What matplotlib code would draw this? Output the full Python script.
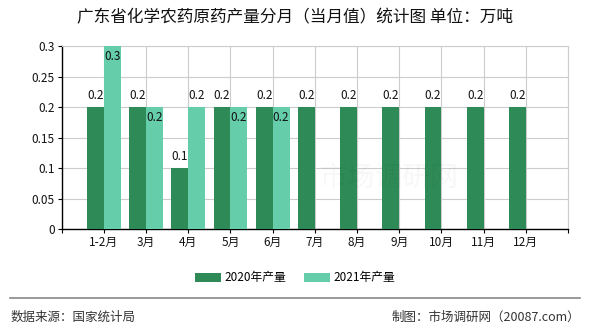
import matplotlib
matplotlib.use("Agg")
import matplotlib.pyplot as plt
import numpy as np

plt.rcParams['font.family'] = ['Noto Sans CJK SC', 'DejaVu Sans']

categories = ["1-2月", "3月", "4月", "5月", "6月", "7月", "8月", "9月", "10月", "11月", "12月"]
prod_2020 = [0.2, 0.2, 0.1, 0.2, 0.2, 0.2, 0.2, 0.2, 0.2, 0.2, 0.2]
prod_2021 = [0.3, 0.2, 0.2, 0.2, 0.2]
label_inside_2021 = [True, True, False, True, True]
yticks = [0, 0.05, 0.1, 0.15, 0.2, 0.25, 0.3]
ytick_labels = ["0", "0.05", "0.1", "0.15", "0.2", "0.25", "0.3"]

c2020 = "#2E8B57"
c2021 = "#66CDAA"

fig = plt.figure(figsize=(5.9, 3.3), dpi=100)
ax = fig.add_axes([0.1046, 0.3052, 0.8581, 0.5554])

x = np.arange(len(categories))
w = 0.4
ax.bar(x[:len(prod_2020)] - w / 2, prod_2020, width=w, color=c2020, zorder=3, label="2020年产量")
x21 = x[:len(prod_2021)]
ax.bar(x21 + w / 2, prod_2021, width=w, color=c2021, zorder=3, label="2021年产量")

for xi, v in zip(x, prod_2020):
    ax.annotate(f"{v:g}", (xi - w / 2, v), xytext=(0, 4), textcoords="offset points",
                ha="center", va="bottom", fontsize=8.5, color="#111", zorder=5)
for xi, v, inside in zip(x21, prod_2021, label_inside_2021):
    if inside:
        ax.annotate(f"{v:g}", (xi + w / 2, v), xytext=(0, -3), textcoords="offset points",
                    ha="center", va="top", fontsize=8.5, color="#111", zorder=5)
    else:
        ax.annotate(f"{v:g}", (xi + w / 2, v), xytext=(0, 4), textcoords="offset points",
                    ha="center", va="bottom", fontsize=8.5, color="#111", zorder=5)

ax.set_xlim(-1, len(categories))
ax.set_ylim(0, 0.3)
ax.set_yticks(yticks)
ax.set_yticklabels(ytick_labels, fontsize=8.5, color="#111")
ax.set_xticks(np.arange(-1, len(categories) + 1))
ax.set_xticklabels([""] + categories + [""], fontsize=8.5, color="#111")
ax.grid(True, color="#cccccc", linewidth=0.8, zorder=0)
for s in ["top", "right"]:
    ax.spines[s].set_color("#cccccc")
    ax.spines[s].set_linewidth(0.8)
for s in ["left", "bottom"]:
    ax.spines[s].set_color("#000000")
    ax.spines[s].set_linewidth(1.0)
ax.tick_params(axis="both", direction="out", length=3, width=0.8, color="#000", pad=2)

# watermark
fig.text(0.66, 0.46, "市场调研网", fontsize=20, color="#000000", alpha=0.03, ha="center", va="center")

fig.text(0.5, 0.945, "广东省化学农药原药产量分月（当月值）统计图 单位：万吨", ha="center", va="center",
         fontsize=12, color="#111")

handles, labels = ax.get_legend_handles_labels()
fig.legend(handles, labels, loc="center", bbox_to_anchor=(0.5, 0.158), ncol=2, frameon=False,
           fontsize=8.5, handlelength=2.2, handleheight=0.8, columnspacing=1.5, handletextpad=0.3)

fig.add_artist(plt.Line2D([0.017, 0.983], [1 - 298 / 330, 1 - 298 / 330], color="#888888", linewidth=1.2))
fig.text(0.017, 1 - 317 / 330, "数据来源：国家统计局", ha="left", va="center", fontsize=9, color="#333")
fig.text(0.983, 1 - 317 / 330, "制图：市场调研网（20087.com）", ha="right", va="center", fontsize=9, color="#333")

fig.savefig("out.png", dpi=100)
